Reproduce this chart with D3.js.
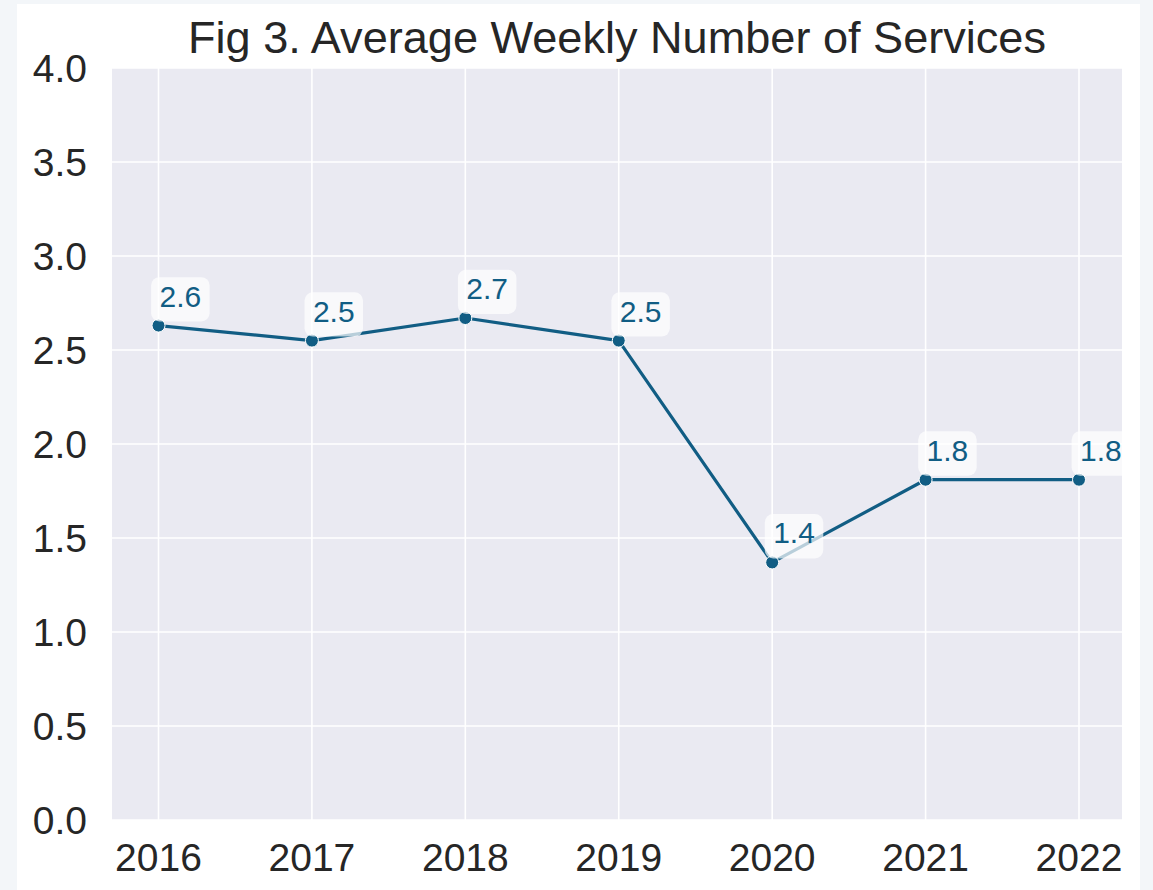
<!DOCTYPE html>
<html>
<head>
<meta charset="utf-8">
<script src="https://cdn.jsdelivr.net/npm/d3@7"></script>
<style>
  html, body { margin: 0; padding: 0; background: #f3f6f9; }
  svg { display: block; }
</style>
</head>
<body>
<svg id="chart" width="1153" height="890"></svg>
<script>
// data
const years = [2016, 2017, 2018, 2019, 2020, 2021, 2022];
const services = [2.63, 2.55, 2.67, 2.55, 1.37, 1.81, 1.81];
const labels = ['2.6', '2.5', '2.7', '2.5', '1.4', '1.8', '1.8'];
const yTicks = [0, 0.5, 1, 1.5, 2, 2.5, 3, 3.5, 4];

const svg = d3.select('#chart');
const lineColor = '#115d84';
const textColor = '#262626';
const font = '"Liberation Sans", Arial, sans-serif';

// white figure panel
svg.append('rect')
   .attr('x', 17).attr('y', 4)
   .attr('width', 1123).attr('height', 890)
   .attr('fill', '#fff');

const plot = { left: 112, top: 68, right: 1122, bottom: 820 };

const x = d3.scaleLinear()
    .domain([2016, 2022])
    .range([158.5, 1079]);
const y = d3.scaleLinear()
    .domain([0, 4])
    .range([plot.bottom, plot.top]);

// axes background
svg.append('rect')
   .attr('x', plot.left).attr('y', plot.top)
   .attr('width', plot.right - plot.left)
   .attr('height', plot.bottom - plot.top)
   .attr('fill', '#eaeaf2');

// grid
const grid = svg.append('g');
grid.selectAll('.vgrid')
    .data(years)
    .join('line')
    .attr('x1', d => x(d)).attr('x2', d => x(d))
    .attr('y1', plot.top).attr('y2', plot.bottom)
    .attr('stroke', '#fff').attr('stroke-width', 1.6);
grid.selectAll('.hgrid')
    .data(yTicks)
    .join('line')
    .attr('x1', plot.left).attr('x2', plot.right)
    .attr('y1', d => y(d)).attr('y2', d => y(d))
    .attr('stroke', '#fff').attr('stroke-width', 1.6);

// tick labels
svg.append('g')
   .selectAll('text')
   .data(yTicks)
   .join('text')
   .attr('x', 87)
   .attr('y', d => y(d))
   .attr('dy', '0.36em')
   .attr('text-anchor', 'end')
   .attr('font-family', font)
   .attr('font-size', '39px')
   .attr('fill', textColor)
   .text(d => d.toFixed(1));

svg.append('g')
   .selectAll('text')
   .data(years)
   .join('text')
   .attr('x', d => x(d))
   .attr('y', 871)
   .attr('text-anchor', 'middle')
   .attr('font-family', font)
   .attr('font-size', '39px')
   .attr('fill', textColor)
   .text(d => d);

// title
const title = svg.append('text')
   .attr('x', (plot.left + plot.right) / 2)
   .attr('y', 53)
   .attr('text-anchor', 'middle')
   .attr('font-family', font)
   .attr('font-size', '40px')
   .attr('fill', textColor)
   .text('Fig 3. Average Weekly Number of Services');
// scale title to the measured width in the reference
const tw = title.node().getComputedTextLength();
title.attr('font-size', (40 * 859 / tw).toFixed(1) + 'px');

// line
const pts = years.map((yr, i) => ({ year: yr, value: services[i], label: labels[i] }));
const line = d3.line().x(d => x(d.year)).y(d => y(d.value));

svg.append('path')
   .datum(pts)
   .attr('d', line)
   .attr('fill', 'none')
   .attr('stroke', lineColor)
   .attr('stroke-width', 3.2)
   .attr('stroke-linejoin', 'round');

svg.append('g')
   .selectAll('circle')
   .data(pts)
   .join('circle')
   .attr('cx', d => x(d.year))
   .attr('cy', d => y(d.value))
   .attr('r', 6.5)
   .attr('fill', lineColor)
   .attr('stroke', '#fff')
   .attr('stroke-width', 1);

// value labels with rounded translucent boxes
const fs = 30, pad = 8.4;
const lab = svg.append('g');
pts.forEach(d => {
  const tx = x(d.year) + 1;
  const ty = y(d.value) - 19;
  const g = lab.append('g');
  const t = g.append('text')
     .attr('x', tx).attr('y', ty)
     .attr('font-family', font)
     .attr('font-size', fs + 'px')
     .attr('fill', lineColor)
     .text(d.label);
  const w = t.node().getComputedTextLength();
  g.insert('rect', 'text')
     .attr('x', tx - pad)
     .attr('y', ty - fs * 0.9 - pad + 6)
     .attr('width', w + 2 * pad)
     .attr('height', fs * 1.12 + 2 * pad - 6)
     .attr('rx', pad).attr('ry', pad)
     .attr('fill', '#fff')
     .attr('fill-opacity', 0.7);
});
</script>
</body>
</html>
